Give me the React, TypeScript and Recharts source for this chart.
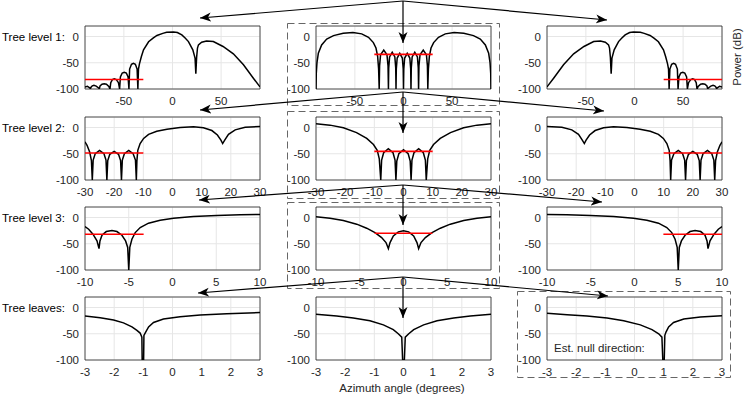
import { LineChart, Line, XAxis, YAxis, CartesianGrid, ReferenceArea } from "recharts";

type Pt = [number, number];

// tick labels
const POWER_TICKS = [-100, -50, 0];
const LEVEL1_TICKS = [-50, 0, 50];
const LEVEL2_TICKS = [-30, -20, -10, 0, 10, 20, 30];
const LEVEL3_TICKS = [-10, -5, 0, 5, 10];
const LEAF_TICKS = [-3, -2, -1, 0, 1, 2, 3];

// beam patterns [azimuth deg, power dB]
const level1Left: Pt[] = [
  [-90, -96], [-87.5, -95], [-85, -98], [-84.5, -100], [-84, -97], [-82.5, -94], [-80.8, -93], [-78.5, -94.5], [-76, -98],
  [-75.3, -100], [-74.5, -94], [-72.5, -91], [-70.2, -90], [-68, -91], [-65.5, -95], [-64.3, -100], [-63.5, -88], [-61.8, -82],
  [-59.9, -80.5], [-57.8, -82], [-55.6, -88], [-54.4, -100], [-53.6, -77], [-51.7, -69.5], [-49.6, -68], [-47.5, -69.5],
  [-45.7, -77], [-44.8, -100], [-44.1, -62], [-42.2, -53], [-40.2, -51], [-38.2, -53], [-36.4, -62], [-35.6, -100], [-35, -62],
  [-34, -52], [-32, -38], [-29.8, -25.5], [-24.6, -10], [-20, -3], [-16, 2], [-10, 6], [-6, 8], [1, 8.6], [5, 7.5], [9.6, 3],
  [13, -3], [16.4, -9.7], [20.9, -25.5], [23.2, -41], [24, -71], [24.8, -40], [25.7, -22], [26.7, -16], [30, -11], [35, -8.4],
  [42, -9.7], [52, -19], [62.6, -33], [73, -54], [83, -79], [90, -96],
];
const level1Centre: Pt[] = [
  [-90, -100], [-89.7, -70], [-89, -50], [-87.6, -32], [-84.2, -16], [-79, -5], [-72, 1.7], [-62, 6], [-52, 7.4], [-43, 5],
  [-36, -1.5], [-31, -11.6], [-28.3, -22], [-26.6, -38], [-25.6, -62], [-25, -100],
  [-24.6, -56], [-23.6, -35], [-20.3, -26], [-17, -35], [-15.9, -56], [-15.5, -100],
  [-15.2, -60], [-14.3, -39], [-11.6, -30], [-8.9, -39], [-8, -60], [-7.7, -100],
  [-7.4, -62], [-6.5, -41], [-3.85, -32], [-1.2, -41], [-0.3, -62], [0, -100],
  [0.3, -62], [1.2, -41], [3.85, -32], [6.5, -41], [7.4, -62], [7.7, -100],
  [8, -60], [8.9, -39], [11.6, -30], [14.3, -39], [15.2, -60], [15.5, -100],
  [15.9, -56], [17, -35], [20.3, -26], [23.6, -35], [24.6, -56], [25, -100],
  [25.6, -62], [26.6, -38], [28.3, -22], [31, -11.6], [36, -1.5], [43, 5], [52, 7.4], [62, 6], [72, 1.7], [79, -5],
  [84.2, -16], [87.6, -32], [89, -50], [89.7, -70], [90, -100],
];
const level1Right: Pt[] = [
  [-90, -96], [-83, -79], [-73, -54], [-62.6, -33], [-52, -19], [-42, -9.7], [-35, -8.4], [-30, -11], [-26.7, -16], [-25.7, -22],
  [-24.8, -40], [-24, -71], [-23.2, -41], [-20.9, -25.5], [-16.4, -9.7], [-13, -3], [-9.6, 3], [-5, 7.5], [-1, 8.6], [6, 8],
  [10, 6], [16, 2], [20, -3], [24.6, -10], [29.8, -25.5], [32, -38], [34, -52], [35, -62], [35.6, -100], [36.4, -62], [38.2, -53],
  [40.2, -51], [42.2, -53], [44.1, -62], [44.8, -100], [45.7, -77], [47.5, -69.5], [49.6, -68], [51.7, -69.5], [53.6, -77],
  [54.4, -100], [55.6, -88], [57.8, -82], [59.9, -80.5], [61.8, -82], [63.5, -88], [64.3, -100], [65.5, -95], [68, -91],
  [70.2, -90], [72.5, -91], [74.5, -94], [75.3, -100], [76, -98], [78.5, -94.5], [80.8, -93], [82.5, -94], [84, -97],
  [84.5, -100], [85, -98], [87.5, -95], [90, -96],
];

const level2Left: Pt[] = [
  [-30, -27.3], [-29.3, -33.8], [-28.4, -46.8], [-27.8, -63], [-27.5, -100],
  [-27.2, -62], [-26.5, -50], [-25, -43.5], [-23.5, -50], [-22.8, -62], [-22.5, -100],
  [-22.2, -63], [-21.5, -51], [-20, -45.5], [-18.5, -51], [-17.8, -63], [-17.5, -100],
  [-17.2, -62], [-16.5, -50], [-15, -43.5], [-13.5, -50], [-12.7, -62], [-12.4, -100],
  [-12.2, -63], [-11.9, -43.5], [-11.1, -30.5], [-9.9, -20.8], [-8.2, -13], [-5.4, -7.1], [-1.9, -3.2], [2.6, 0], [7.2, 1.3],
  [10.6, -0.6], [13.5, -5.8], [15.4, -14.3], [16.6, -24], [17.2, -30.5], [17.9, -24], [19.2, -13], [21.5, -4.5], [24.9, 0.6],
  [30, 1.9],
];
const level2Centre: Pt[] = [
  [-30, 7.1], [-25.2, 4.5], [-20.6, -0.6], [-16.1, -9.7], [-12.6, -20.8], [-10.3, -32.5], [-9, -43.5], [-8.3, -59.7], [-7.8, -100],
  [-7.5, -62], [-6.8, -48], [-5.2, -40.3], [-3.6, -48], [-2.9, -62], [-2.6, -100],
  [-2.3, -64], [-1.6, -50], [0, -42.2], [1.6, -50], [2.3, -64], [2.6, -100],
  [2.9, -62], [3.6, -48], [5.2, -40.3], [6.8, -48], [7.5, -62], [7.8, -100],
  [8.3, -59.7], [9, -43.5], [10.3, -32.5], [12.6, -20.8], [16.1, -9.7], [20.6, -0.6], [25.2, 4.5], [30, 7.1],
];
const level2Right: Pt[] = [
  [-30, 1.9], [-24.9, 0.6], [-21.5, -4.5], [-19.2, -13], [-17.9, -24], [-17.2, -30.5], [-16.6, -24], [-15.4, -14.3], [-13.5, -5.8],
  [-10.6, -0.6], [-7.2, 1.3], [-2.6, 0], [1.9, -3.2], [5.4, -7.1], [8.2, -13], [9.9, -20.8], [11.1, -30.5], [11.9, -43.5],
  [12.2, -63], [12.4, -100], [12.7, -62], [13.5, -50], [15, -43.5], [16.5, -50], [17.2, -62], [17.5, -100],
  [17.8, -63], [18.5, -51], [20, -45.5], [21.5, -51], [22.2, -63], [22.5, -100],
  [22.8, -62], [23.5, -50], [25, -43.5], [26.5, -50], [27.2, -62], [27.5, -100],
  [27.8, -63], [28.4, -46.8], [29.3, -33.8], [30, -27.3],
];

const level3Left: Pt[] = [
  [-10, -17.2], [-9.58, -22.3], [-9.09, -31.8], [-8.63, -44.6], [-8.4, -59.2], [-8.29, -44.6], [-8.06, -33.8], [-7.57, -26.8],
  [-6.92, -24.8], [-6.35, -26.8], [-5.78, -33.8], [-5.36, -44.6], [-5.12, -57], [-5, -100], [-4.88, -57], [-4.64, -41.4],
  [-4.26, -28.7], [-3.69, -19.1], [-2.74, -10.8], [-1.41, -5.1], [0.11, -1.3], [2.39, 1.9], [5.06, 3.8], [7.72, 5.1], [10, 5.7],
];
const level3Centre: Pt[] = [
  [-10, 1.3], [-8.4, -1.3], [-6.88, -5.7], [-5.35, -12.7], [-4.21, -20.4], [-3.26, -28.7], [-2.5, -38.2], [-2, -47.8],
  [-1.73, -59.2], [-1.54, -47.8], [-1.16, -35], [-0.59, -27.4], [0, -25.5], [0.59, -27.4], [1.16, -35], [1.54, -47.8],
  [1.73, -59.2], [2, -47.8], [2.5, -38.2], [3.26, -28.7], [4.21, -20.4], [5.35, -12.7], [6.88, -5.7], [8.4, -1.3], [10, 1.3],
];
const level3Right: Pt[] = [
  [-10, 5.7], [-7.72, 5.1], [-5.06, 3.8], [-2.39, 1.9], [-0.11, -1.3], [1.41, -5.1], [2.74, -10.8], [3.69, -19.1], [4.26, -28.7],
  [4.64, -41.4], [4.88, -57], [5, -100], [5.12, -57], [5.36, -44.6], [5.78, -33.8], [6.35, -26.8], [6.92, -24.8], [7.57, -26.8],
  [8.06, -33.8], [8.29, -44.6], [8.4, -59.2], [8.63, -44.6], [9.09, -31.8], [9.58, -22.3], [10, -17.2],
];

const leafLeft: Pt[] = [
  [-3, -16.2], [-2.48, -19.5], [-2.02, -24], [-1.68, -29.2], [-1.39, -37], [-1.22, -43.5], [-1.11, -48.7], [-1.05, -56.5],
  [-1.04, -100], [-0.99, -100], [-0.98, -53.2], [-0.92, -46.8], [-0.82, -37], [-0.65, -28.6], [-0.31, -22.1], [0.26, -17.5],
  [0.95, -14.3], [1.86, -11.7], [3, -9.7],
];
const leafCentre: Pt[] = [
  [-3, -13], [-2.29, -16.2], [-1.72, -20.1], [-1.15, -25.3], [-0.69, -33.1], [-0.35, -42.2], [-0.18, -50], [-0.06, -56.5],
  [-0.03, -100], [0.03, -100], [0.06, -56.5], [0.18, -50], [0.35, -42.2], [0.69, -33.1], [1.15, -25.3], [1.72, -20.1],
  [2.29, -16.2], [3, -13],
];
const leafRight: Pt[] = [
  [-3, -11], [-2.31, -13.6], [-1.63, -16.2], [-0.94, -20.1], [-0.37, -25.3], [0.2, -33.1], [0.6, -42.2], [0.83, -50],
  [0.94, -56.5], [0.97, -100], [1.02, -100], [1.04, -53], [1.08, -46.8], [1.17, -37], [1.34, -28.6], [1.69, -22.1],
  [2.26, -18.2], [3, -15.6],
];

// red threshold lines
const level1LeftThr: Pt[] = [[-90, -82], [-30, -82]];
const level1CentreThr: Pt[] = [[-30, -34], [30, -34]];
const level1RightThr: Pt[] = [[30, -82], [90, -82]];
const level2LeftThr: Pt[] = [[-30, -48.7], [-10, -48.7]];
const level2CentreThr: Pt[] = [[-10, -45.5], [10, -45.5]];
const level2RightThr: Pt[] = [[10, -48.7], [30, -48.7]];
const level3LeftThr: Pt[] = [[-10, -31.8], [-3.3, -31.8]];
const level3CentreThr: Pt[] = [[-3.3, -30], [3.3, -30]];
const level3RightThr: Pt[] = [[3.3, -31.8], [10, -31.8]];

const ROW_LABELS = ["Tree level 1:", "Tree level 2:", "Tree level 3:", "Tree leaves:"];

const COLS = [85, 316, 547];
const ROWS = [26, 117, 207, 297];
const PLOT_W = 175;
const PLOT_H = 63;
const AXIS_W = 40;
const AXIS_H = 20;
const PAD = 2;
const PAD_R = 12;

const tickStyle = { fontSize: 11.5, fill: "#262626" };

function Panel({ left, top, domain, ticks, curve, thr }: { left: number; top: number; domain: [number, number]; ticks: number[]; curve: Pt[]; thr?: Pt[] }) {
  const rows = curve.map(([x, y]) => ({ x, y }));
  const red = thr ? thr.map(([x, y]) => ({ x, y })) : null;
  return (
    <div style={{ position: "absolute", left: left - AXIS_W, top: top - PAD }}>
      <LineChart width={AXIS_W + PLOT_W + PAD_R} height={PAD + PLOT_H + AXIS_H} margin={{ top: PAD, right: PAD_R, bottom: 0, left: 0 }}>
        <CartesianGrid stroke="#e6e6e6" />
        <XAxis type="number" dataKey="x" domain={domain} ticks={ticks} interval={0} allowDataOverflow axisLine={false} tickLine={false} height={AXIS_H} tick={tickStyle} />
        <YAxis type="number" domain={[-100, 20]} ticks={POWER_TICKS} interval={0} allowDataOverflow axisLine={false} tickLine={false} width={AXIS_W} tickSize={4} tick={tickStyle} />
        <Line data={rows} dataKey="y" type="linear" stroke="#000" strokeWidth={1.5} dot={false} isAnimationActive={false} />
        {red && <Line data={red} dataKey="y" type="linear" stroke="#ff0000" strokeWidth={1.6} dot={false} isAnimationActive={false} />}
        <ReferenceArea x1={domain[0]} x2={domain[1]} y1={-100} y2={20} fill="none" stroke="#262626" strokeWidth={0.8} />
      </LineChart>
    </div>
  );
}

const ARROWS = [
  [403, 1, 200, 18], [403, 1, 403, 43], [403, 1, 607, 20],
  [403, 92, 200, 110], [403, 92, 403, 133], [403, 92, 604, 111],
  [403, 185, 199, 200], [403, 185, 403, 225], [403, 185, 602, 202],
  [403, 277, 198, 293], [403, 277, 403, 318], [403, 277, 608, 296],
];
const BOXES = [
  [287, 23, 212, 82], [287, 111, 212, 87], [287, 202, 212, 86], [517, 291, 213, 86],
];

export default function App() {
  return (
    <div style={{ position: "absolute", left: 0, top: 0, width: 747, height: 395, background: "#fff", fontFamily: '"Liberation Sans", Arial, sans-serif' }}>
      <Panel left={COLS[0]} top={ROWS[0]} domain={[-90, 90]} ticks={LEVEL1_TICKS} curve={level1Left} thr={level1LeftThr} />
      <Panel left={COLS[1]} top={ROWS[0]} domain={[-90, 90]} ticks={LEVEL1_TICKS} curve={level1Centre} thr={level1CentreThr} />
      <Panel left={COLS[2]} top={ROWS[0]} domain={[-90, 90]} ticks={LEVEL1_TICKS} curve={level1Right} thr={level1RightThr} />
      <Panel left={COLS[0]} top={ROWS[1]} domain={[-30, 30]} ticks={LEVEL2_TICKS} curve={level2Left} thr={level2LeftThr} />
      <Panel left={COLS[1]} top={ROWS[1]} domain={[-30, 30]} ticks={LEVEL2_TICKS} curve={level2Centre} thr={level2CentreThr} />
      <Panel left={COLS[2]} top={ROWS[1]} domain={[-30, 30]} ticks={LEVEL2_TICKS} curve={level2Right} thr={level2RightThr} />
      <Panel left={COLS[0]} top={ROWS[2]} domain={[-10, 10]} ticks={LEVEL3_TICKS} curve={level3Left} thr={level3LeftThr} />
      <Panel left={COLS[1]} top={ROWS[2]} domain={[-10, 10]} ticks={LEVEL3_TICKS} curve={level3Centre} thr={level3CentreThr} />
      <Panel left={COLS[2]} top={ROWS[2]} domain={[-10, 10]} ticks={LEVEL3_TICKS} curve={level3Right} thr={level3RightThr} />
      <Panel left={COLS[0]} top={ROWS[3]} domain={[-3, 3]} ticks={LEAF_TICKS} curve={leafLeft} />
      <Panel left={COLS[1]} top={ROWS[3]} domain={[-3, 3]} ticks={LEAF_TICKS} curve={leafCentre} />
      <Panel left={COLS[2]} top={ROWS[3]} domain={[-3, 3]} ticks={LEAF_TICKS} curve={leafRight} />

      <svg width={747} height={395} style={{ position: "absolute", left: 0, top: 0, pointerEvents: "none" }}>
        <defs>
          <marker id="head" markerWidth={12} markerHeight={10} refX={11} refY={5} orient="auto" markerUnits="userSpaceOnUse">
            <path d="M0,0.5 L11,5 L0,9.5 L3,5 Z" fill="#000" />
          </marker>
        </defs>
        {BOXES.map(([x, y, w, h], i) => (
          <rect key={i} x={x + 0.5} y={y + 0.5} width={w} height={h} fill="none" stroke="#666" strokeWidth={1} strokeDasharray="7 4" />
        ))}
        {ARROWS.map(([x1, y1, x2, y2], i) => (
          <line key={i} x1={x1} y1={y1} x2={x2} y2={y2} stroke="#000" strokeWidth={1.2} markerEnd="url(#head)" />
        ))}
        {ROW_LABELS.map((t, i) => (
          <text key={t} x={2} y={ROWS[i] + 15} fontSize={11.5} fill="#000">{t}</text>
        ))}
        <text transform="translate(741,57) rotate(-90)" textAnchor="middle" fontSize={11.5} fill="#262626">Power (dB)</text>
        <text x={402} y={392} textAnchor="middle" fontSize={11.5} fill="#262626">Azimuth angle (degrees)</text>
        <text x={554} y={352} fontSize={11.5} fill="#262626">Est. null direction:</text>
      </svg>
    </div>
  );
}
